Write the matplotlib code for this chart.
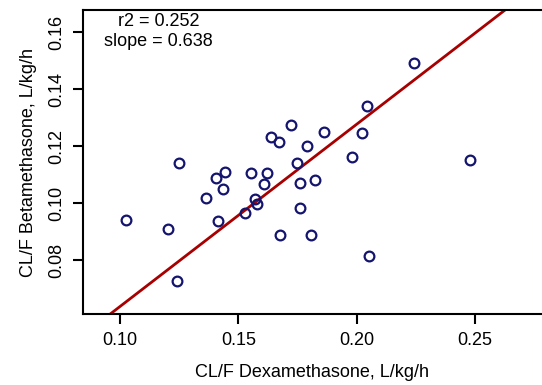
import matplotlib
matplotlib.use('Agg')
import matplotlib.pyplot as plt
import numpy as np

plt.rcParams['font.family'] = ['Liberation Sans', 'DejaVu Sans']

# CL/F values
dexa = [0.2243, 0.2046, 0.1723, 0.1640, 0.1672, 0.1864, 0.2024, 0.1790,
        0.1981, 0.2482, 0.1249, 0.1746, 0.1442, 0.1407, 0.1553, 0.1619,
        0.1610, 0.1760, 0.1823, 0.1436, 0.1363, 0.1569, 0.1578, 0.1527,
        0.1412, 0.1023, 0.1200, 0.1760, 0.1675, 0.1808, 0.2054, 0.1241]
beta = [0.1490, 0.1341, 0.1273, 0.1233, 0.1214, 0.1248, 0.1245, 0.1200,
        0.1162, 0.1150, 0.1140, 0.1142, 0.1109, 0.1089, 0.1105, 0.1105,
        0.1068, 0.1069, 0.1081, 0.1048, 0.1019, 0.1016, 0.0998, 0.0966,
        0.0938, 0.0940, 0.0908, 0.0981, 0.0888, 0.0888, 0.0814, 0.0725]
r2 = 0.252
slope = 0.638
intercept = 0.0

xticks = [0.10, 0.15, 0.20, 0.25]
yticks = [0.08, 0.10, 0.12, 0.14, 0.16]

fig = plt.figure(figsize=(5.42, 3.85), dpi=100)
ax = fig.add_axes([0.153, 0.1844, 0.847, 0.7896])

xl = (0.0842, 0.2785)
yl = (0.0611, 0.1677)

xx = np.array(xl)
ax.plot(xx, slope * xx + intercept, color='#a80000', lw=2.0, zorder=2)
ax.plot(dexa, beta, 'o', ms=7, mfc='none', mec='#14146e', mew=1.6, zorder=3)

ax.set_xlim(*xl)
ax.set_ylim(*yl)
ax.set_xticks(xticks)
ax.set_xticklabels([f'{v:.2f}' for v in xticks])
ax.set_yticks(yticks)
ax.set_yticklabels([f'{v:.2f}' for v in yticks], rotation=90, va='center')

for s in ['left', 'bottom', 'top']:
    ax.spines[s].set_linewidth(1.5)
ax.spines['right'].set_visible(False)
ax.tick_params(direction='out', length=7, width=1.5, labelsize=13, pad=6)

ax.set_xlabel('CL/F Dexamethasone, L/kg/h', fontsize=13, labelpad=11)
ax.set_ylabel('CL/F Betamethasone, L/kg/h', fontsize=13, labelpad=8)

ax.text(0.165, 0.99, f'r2 = {r2:.3f}\nslope = {slope:.3f}', transform=ax.transAxes,
        ha='center', va='top', fontsize=13, linespacing=1.2)

fig.savefig('out.png', dpi=100)
